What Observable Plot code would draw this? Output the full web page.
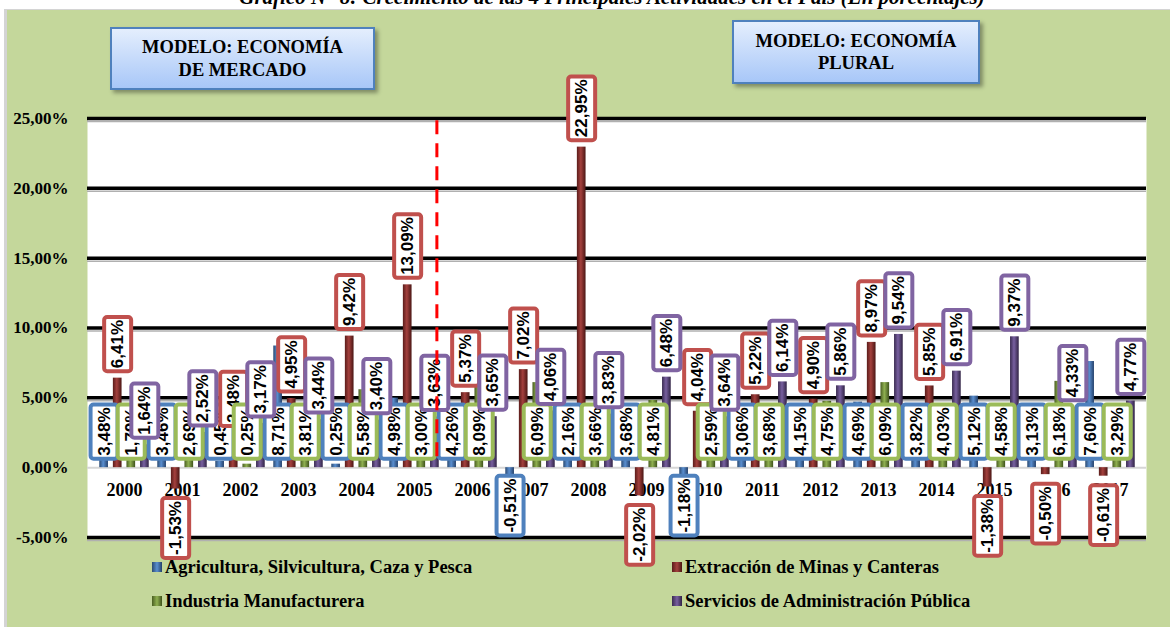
<!DOCTYPE html>
<html>
<head>
<meta charset="utf-8">
<script src="https://cdn.jsdelivr.net/npm/d3@7"></script>
<script src="https://cdn.jsdelivr.net/npm/@observablehq/plot@0.6"></script>
<style>
html,body{margin:0;padding:0;width:1170px;height:627px;overflow:hidden;background:#fff;}
#title{position:absolute;left:27px;width:1170px;top:-15px;text-align:center;font:italic bold 21px "Liberation Serif",serif;white-space:nowrap;color:#000;}
#panel{position:absolute;left:4px;top:9px;width:1166px;height:618px;background:#c4d79b;border-left:3px solid #d4d4d4;border-top:1px solid #d4d4d4;}
#chart{position:absolute;left:0;top:0;}
.mbox{position:absolute;border:2px solid #4f81bd;background:linear-gradient(#e4eefd,#a8c7f8);box-shadow:3px 3px 4px rgba(0,0,0,0.35);font:bold 18.5px "Liberation Serif",serif;text-align:center;line-height:23px;color:#000;box-sizing:border-box;white-space:nowrap;}
.leg{position:absolute;font:bold 18.5px "Liberation Serif",serif;color:#000;white-space:nowrap;line-height:20px;}
.sq{position:absolute;width:10px;height:10px;}
</style>
</head>
<body>
<div id="panel"></div>
<div id="title"></div>
<div id="chart"></div>
<div id="boxes"></div>
<div id="legend"></div>
<script>
// ---------- data ----------
const chartTitle = "Gráfico N° 8: Crecimiento de las 4 Principales Actividades en el País (En porcentajes)";
const years = [2000,2001,2002,2003,2004,2005,2006,2007,2008,2009,2010,2011,2012,2013,2014,2015,2016,2017];
const seriesNames = [
  "Agricultura, Silvicultura, Caza y Pesca",
  "Extracción de Minas y Canteras",
  "Industria Manufacturera",
  "Servicios de Administración Pública"
];
const agricultura = [3.48,3.46,0.45,8.71,0.25,4.98,4.26,-0.51,2.16,3.68,-1.18,3.06,4.15,4.69,3.82,5.12,3.13,7.60];
const mineria     = [6.41,-1.53,2.48,4.95,9.42,13.09,5.37,7.02,22.95,-2.02,4.04,5.22,4.90,8.97,5.85,-1.38,-0.50,-0.61];
const industria   = [1.79,2.69,0.25,3.81,5.58,3.00,8.09,6.09,3.66,4.81,2.59,3.68,4.75,6.09,4.03,4.58,6.18,3.29];
const servicios   = [1.64,2.52,3.17,3.44,3.40,3.63,3.65,4.06,3.83,6.48,3.64,6.14,5.86,9.54,6.91,9.37,4.33,4.77];
const yTicks = [-5,0,5,10,15,20,25];
const gridValues = [-5,5,10,15,20,25];
const breakYear = 2005;
const modelBoxes = [["MODELO: ECONOMÍA","DE MERCADO"],["MODELO: ECONOMÍA","PLURAL"]];

// ---------- styling ----------
const seriesValues = [agricultura, mineria, industria, servicios];
const borderColors = ["#4f81bd","#c0504d","#9bbb59","#8064a2"];
const gradStops = [
  ["#2b4a72","#5a8fd0","#24406a"],
  ["#5a1c1a","#a4403d","#4a1614"],
  ["#4a5e22","#8fb050","#3f521c"],
  ["#3a2b50","#7860a0","#302344"]
];
const labelMode = ["base","end","base","end"];

const rows = years.flatMap((year, i) => seriesNames.map((s, j) => ({year, series: s, j, value: seriesValues[j][i]})));
const fmt = v => v.toFixed(2).replace(".", ",") + "%";

const W = 1170, H = 627, mL = 87, mR = 24, mT = 118, mB = 90;
const band = (W - mL - mR) / years.length;
const slot = band / 4.33;
const barW = slot * 0.7;
const off = j => (j - 1.5) * slot;

const labelFont = {fontFamily: "Liberation Sans, Arial, sans-serif", fontSize: 17, fontWeight: "bold", fill: "black"};

const marks = [
  Plot.frame({fill: "white", stroke: null}),
  Plot.ruleY([0], {stroke: "#d6d6d6", strokeWidth: 2}),
  Plot.ruleY(gridValues, {stroke: "#b0b0b0", strokeWidth: 1.5, dy: 3}),
  Plot.ruleY(gridValues, {stroke: "black", strokeWidth: 3.5}),
  Plot.text(years, {x: d => d, y: d => 0, dy: 23, text: d => String(d), fontFamily: "Liberation Serif, serif", fontSize: 18, fontWeight: "bold", fill: "black"})
];

seriesNames.forEach((s, j) => {
  const data = rows.filter(d => d.j === j);
  const insetLeft = band / 2 + off(j) - barW / 2;
  marks.push(Plot.barY(data, {x: "year", y1: d => 0, y2: "value", fill: `url(#grad${j})`, insetLeft, insetRight: band - insetLeft - barW}));
});

seriesNames.forEach((s, j) => {
  const data = rows.filter(d => d.j === j);
  const pos = data.filter(d => d.value >= 0), neg = data.filter(d => d.value < 0);
  const base = labelMode[j] === "base";
  const common = {x: "year", dx: off(j), text: d => fmt(d.value), rotate: -90, ariaDescription: `lbl${j}`, ...labelFont};
  marks.push(Plot.text(pos, {...common, y: base ? (d => 0) : "value", textAnchor: "start", dy: base ? -12 : -10}));
  marks.push(Plot.text(neg, {...common, y: base ? (d => 0) : "value", textAnchor: "end", dy: base ? 11 : 12}));
});

marks.push(Plot.ruleX([breakYear], {x: d => d, y1: d => 0, y2: d => 25, dx: 1.5 * slot + 2, insetTop: -11, stroke: "#ff0000", strokeWidth: 3, strokeDasharray: "14,9"}));

const chart = Plot.plot({
  width: W, height: H,
  marginLeft: mL, marginRight: mR, marginTop: mT, marginBottom: mB,
  style: {background: "transparent", fontFamily: "Liberation Serif, serif", fontSize: "17px", fontWeight: "bold", color: "black"},
  x: {domain: years, padding: 0, axis: null},
  y: {domain: [-5, 25], ticks: yTicks, tickFormat: d => d.toFixed(2).replace(".", ",") + "%", tickSize: 0, tickPadding: 19, label: null},
  marks
});
document.getElementById("chart").appendChild(chart);

// gradients
const ns = "http://www.w3.org/2000/svg";
const defs = document.createElementNS(ns, "defs");
gradStops.forEach((st, j) => {
  const g = document.createElementNS(ns, "linearGradient");
  g.setAttribute("id", `grad${j}`);
  g.setAttribute("x1", "0"); g.setAttribute("x2", "1"); g.setAttribute("y1", "0"); g.setAttribute("y2", "0");
  [[0, st[0]], [0.45, st[1]], [1, st[2]]].forEach(([o, c]) => {
    const s = document.createElementNS(ns, "stop");
    s.setAttribute("offset", o); s.setAttribute("stop-color", c);
    g.appendChild(s);
  });
  defs.appendChild(g);
});
chart.insertBefore(defs, chart.firstChild);

// label boxes
borderColors.forEach((c, j) => {
  chart.querySelectorAll(`g[aria-description="lbl${j}"] text`).forEach(t => {
    const b = t.getBBox();
    const r = document.createElementNS(ns, "rect");
    const cy = b.y + b.height / 2;
    r.setAttribute("x", b.x - 3);
    r.setAttribute("width", b.width + 6);
    r.setAttribute("y", cy - 13.5);
    r.setAttribute("height", 27);
    r.setAttribute("rx", 3);
    r.setAttribute("fill", "white");
    r.setAttribute("stroke", c);
    r.setAttribute("stroke-width", 4);
    const tr = t.getAttribute("transform");
    if (tr) r.setAttribute("transform", tr);
    t.parentNode.insertBefore(r, t);
  });
});

// title
document.getElementById("title").textContent = chartTitle;

// model boxes
const boxPos = [{l:110,t:27,w:265,h:63,pt:7},{l:732,t:20,w:248,h:64,pt:8}];
const bx = document.getElementById("boxes");
modelBoxes.forEach((lines, i) => {
  const p = boxPos[i];
  const d = document.createElement("div");
  d.className = "mbox";
  Object.assign(d.style, {left: p.l + "px", top: p.t + "px", width: p.w + "px", height: p.h + "px", paddingTop: p.pt + "px", lineHeight: (i === 0 ? 23 : 22) + "px"});
  d.innerHTML = lines.join("<br>");
  bx.appendChild(d);
});

// legend
const legPos = [{x:152,y:567},{x:672,y:567},{x:152,y:601},{x:672,y:601}];
const lg = document.getElementById("legend");
seriesNames.forEach((s, j) => {
  const p = legPos[j];
  const sq = document.createElement("div");
  sq.className = "sq";
  Object.assign(sq.style, {left: p.x + "px", top: (p.y - 5) + "px", background: `linear-gradient(90deg, ${gradStops[j][0]}, ${gradStops[j][1]}, ${gradStops[j][2]})`});
  lg.appendChild(sq);
  const t = document.createElement("div");
  t.className = "leg";
  Object.assign(t.style, {left: (p.x + 13) + "px", top: (p.y - 10) + "px"});
  t.textContent = s;
  lg.appendChild(t);
});
</script>
</body>
</html>
